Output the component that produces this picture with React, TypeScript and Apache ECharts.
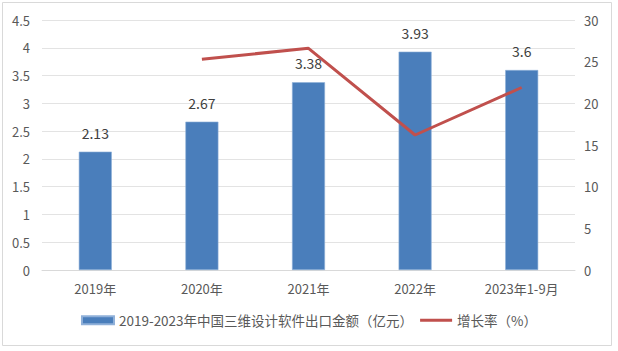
import React, { useEffect, useRef } from "react";
import * as echarts from "echarts";

const categories = ["2019年", "2020年", "2021年", "2022年", "2023年1-9月"];
const exportValues = [2.13, 2.67, 3.38, 3.93, 3.6];
const growthRates: (number | null)[] = [null, 25.3, 26.6, 16.2, 21.9];
const barName = "2019-2023年中国三维设计软件出口金额（亿元）";
const lineName = "增长率（%）";

const FONT = "'Noto Sans CJK SC', 'Microsoft YaHei', sans-serif";

export default function App() {
  const ref = useRef<HTMLDivElement>(null);
  useEffect(() => {
    if (!ref.current) return;
    const chart = echarts.init(ref.current, null, { renderer: "svg" });
    chart.setOption({
      animation: false,
      backgroundColor: "#ffffff",
      textStyle: { fontFamily: FONT },
      graphic: [
        {
          type: "rect",
          shape: { x: 2.5, y: 2.5, width: 609, height: 343 },
          style: { fill: "none", stroke: "#d9d9d9", lineWidth: 1 },
          silent: true,
        },
      ],
      grid: { left: 42, right: 43, top: 20, bottom: 81, containLabel: false },
      legend: {
        bottom: 19,
        left: "center",
        itemGap: 7,
        itemWidth: 32,
        itemHeight: 8,
        textStyle: { fontFamily: FONT, fontSize: 13.5, color: "#595959" },
        data: [
          { name: barName, icon: "rect" },
          { name: lineName, icon: "path://M0,0 L34,0 L34,3 L0,3 Z" },
        ],
      },
      xAxis: {
        type: "category",
        data: categories,
        axisTick: { show: false },
        axisLine: { show: true, lineStyle: { color: "#d9d9d9", width: 1 } },
        axisLabel: { color: "#595959", fontSize: 13, margin: 12, fontFamily: FONT },
      },
      yAxis: [
        {
          type: "value",
          min: 0,
          max: 4.5,
          interval: 0.5,
          axisLine: { show: false },
          axisTick: { show: false },
          axisLabel: { color: "#595959", fontSize: 13, margin: 12, fontFamily: FONT },
          splitLine: { lineStyle: { color: "#e3e3e3", width: 1 } },
        },
        {
          type: "value",
          min: 0,
          max: 30,
          interval: 5,
          axisLine: { show: false },
          axisTick: { show: false },
          axisLabel: { color: "#595959", fontSize: 13, margin: 9, fontFamily: FONT },
          splitLine: { show: false },
        },
      ],
      series: [
        {
          name: barName,
          type: "bar",
          data: exportValues,
          barWidth: 33,
          itemStyle: { color: "#4a7ebb", borderColor: "#8fb0d9", borderWidth: 0.6 },
          label: {
            show: true,
            position: "top",
            distance: 12,
            color: "#404040",
            fontSize: 14,
            fontFamily: FONT,
          },
        },
        {
          name: lineName,
          type: "line",
          yAxisIndex: 1,
          data: growthRates,
          showSymbol: false,
          symbol: "none",
          connectNulls: false,
          itemStyle: { color: "#c0504d" },
          lineStyle: { color: "#c0504d", width: 3 },
        },
      ],
    });
    return () => chart.dispose();
  }, []);
  return (
    <div
      ref={ref}
      style={{ position: "fixed", left: 0, top: 0, width: 618, height: 351 }}
    />
  );
}
